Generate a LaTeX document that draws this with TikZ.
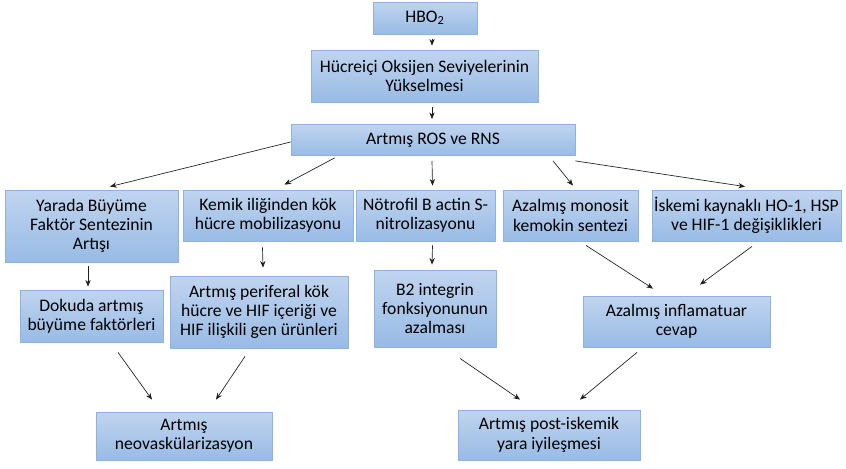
\documentclass[tikz,border=0pt]{standalone}
\usepackage{fontspec}
\setmainfont{Carlito}
\usetikzlibrary{arrows.meta}
\definecolor{boxtop}{RGB}{192,212,239}
\definecolor{boxbot}{RGB}{152,187,229}
\definecolor{boxline}{RGB}{141,178,224}
\definecolor{arr}{RGB}{30,30,30}
\tikzset{
  box/.style={draw=boxline, line width=0.6pt, top color=boxtop, bottom color=boxbot,
    align=center, inner sep=0pt, font=\fontsize{13.2}{14.5}\selectfont},
  arrow/.style={draw=arr, line width=0.5pt, -{Stealth[length=5pt,width=4pt]}}
}
\begin{document}
\begin{tikzpicture}[x=0.75pt,y=-0.75pt]
\useasboundingbox (0,0) rectangle (846,468);
\node[box, minimum width=104*0.75pt, minimum height=32*0.75pt] (hbo) at (425,18) {HBO\textsubscript{2}};
\node[box, minimum width=227*0.75pt, minimum height=52*0.75pt] (hucre) at (424.5,76) {Hücreiçi Oksijen Seviyelerinin\\Yükselmesi};
\node[box, minimum width=284*0.75pt, minimum height=31*0.75pt] (ros) at (433,140) {Artmış ROS ve RNS};
\node[box, minimum width=173*0.75pt, minimum height=72*0.75pt] (yarada) at (91.5,226) {Yarada Büyüme\\Faktör Sentezinin\\Artışı};
\node[box, minimum width=170*0.75pt, minimum height=51*0.75pt] (kemik) at (268,215.5) {Kemik iliğinden kök\\hücre mobilizasyonu};
\node[box, minimum width=139*0.75pt, minimum height=51*0.75pt] (notro) at (425.5,215.5) {Nötrofil B actin S-\\nitrolizasyonu};
\node[box, minimum width=135*0.75pt, minimum height=51*0.75pt] (monosit) at (570.5,215.5) {Azalmış monosit\\kemokin sentezi};
\node[box, minimum width=189*0.75pt, minimum height=51*0.75pt] (iskemi) at (746.5,215.5) {İskemi kaynaklı HO-1, HSP\\ve HIF-1 değişiklikleri};
\node[box, minimum width=143*0.75pt, minimum height=52*0.75pt] (dokuda) at (91.5,316) {Dokuda artmış\\büyüme faktörleri};
\node[box, minimum width=178*0.75pt, minimum height=72*0.75pt] (perif) at (259,312) {Artmış periferal kök\\hücre ve HIF içeriği ve\\HIF ilişkili gen ürünleri};
\node[box, minimum width=122*0.75pt, minimum height=77*0.75pt] (b2) at (435,308.5) {B2 integrin\\fonksiyonunun\\azalması};
\node[box, minimum width=187*0.75pt, minimum height=51*0.75pt] (inflam) at (676.5,321.5) {Azalmış inflamatuar\\cevap};
\node[box, minimum width=176*0.75pt, minimum height=48*0.75pt] (neo) at (184,436) {Artmış\\neovaskülarizasyon};
\node[box, minimum width=182*0.75pt, minimum height=50*0.75pt] (post) at (549,435) {Artmış post-iskemik\\yara iyileşmesi};

\draw[arrow] ([xshift=7*0.75pt,yshift=-5*0.75pt]hbo.south) -- ([xshift=7.5*0.75pt,yshift=4*0.75pt]hucre.north);
\draw[arrow] ([xshift=7.5*0.75pt,yshift=-5*0.75pt]hucre.south) -- ([xshift=-1*0.75pt,yshift=5*0.75pt]ros.north);
\draw[arrow] ([yshift=-2*0.75pt]ros.west) -- ([xshift=18.5*0.75pt,yshift=3*0.75pt]yarada.north);
\draw[arrow] ([xshift=44*0.75pt,yshift=-2*0.75pt]ros.south west) -- ([xshift=16.5*0.75pt,yshift=5*0.75pt]kemik.north);
\draw[arrow] ([xshift=-1*0.75pt,yshift=-5*0.75pt]ros.south) -- ([xshift=7*0.75pt,yshift=4*0.75pt]notro.north);
\draw[arrow] ([xshift=120*0.75pt,yshift=-5*0.75pt]ros.south) -- ([xshift=2.5*0.75pt,yshift=4*0.75pt]monosit.north);
\draw[arrow] ([yshift=-5*0.75pt]ros.south east) -- ([xshift=-1.5*0.75pt,yshift=3*0.75pt]iskemi.north);
\draw[arrow] ([xshift=-3.5*0.75pt,yshift=-4*0.75pt]yarada.south) -- ([xshift=-3.5*0.75pt,yshift=3*0.75pt]dokuda.north);
\draw[arrow] ([xshift=-5.5*0.75pt,yshift=-6*0.75pt]kemik.south) -- ([xshift=4*0.75pt,yshift=8*0.75pt]perif.north);
\draw[arrow] ([xshift=7*0.75pt,yshift=-4*0.75pt]notro.south) -- ([xshift=-3*0.75pt,yshift=5*0.75pt]b2.north);
\draw[arrow] ([xshift=15.5*0.75pt,yshift=-4*0.75pt]monosit.south) -- ([xshift=-23.5*0.75pt,yshift=7*0.75pt]inflam.north);
\draw[arrow] ([xshift=5.5*0.75pt,yshift=-5*0.75pt]iskemi.south) -- ([xshift=23.5*0.75pt,yshift=11*0.75pt]inflam.north);
\draw[arrow] ([xshift=26.5*0.75pt,yshift=-10*0.75pt]dokuda.south) -- ([xshift=-32*0.75pt,yshift=12*0.75pt]neo.north);
\draw[arrow] ([xshift=-14*0.75pt,yshift=-8*0.75pt]perif.south) -- ([xshift=32*0.75pt,yshift=12*0.75pt]neo.north);
\draw[arrow] ([xshift=25*0.75pt,yshift=-11*0.75pt]b2.south) -- ([xshift=-29*0.75pt,yshift=10*0.75pt]post.north);
\draw[arrow] ([xshift=-39.5*0.75pt,yshift=-5*0.75pt]inflam.south) -- ([xshift=31*0.75pt,yshift=10*0.75pt]post.north);
\end{tikzpicture}
\end{document}
